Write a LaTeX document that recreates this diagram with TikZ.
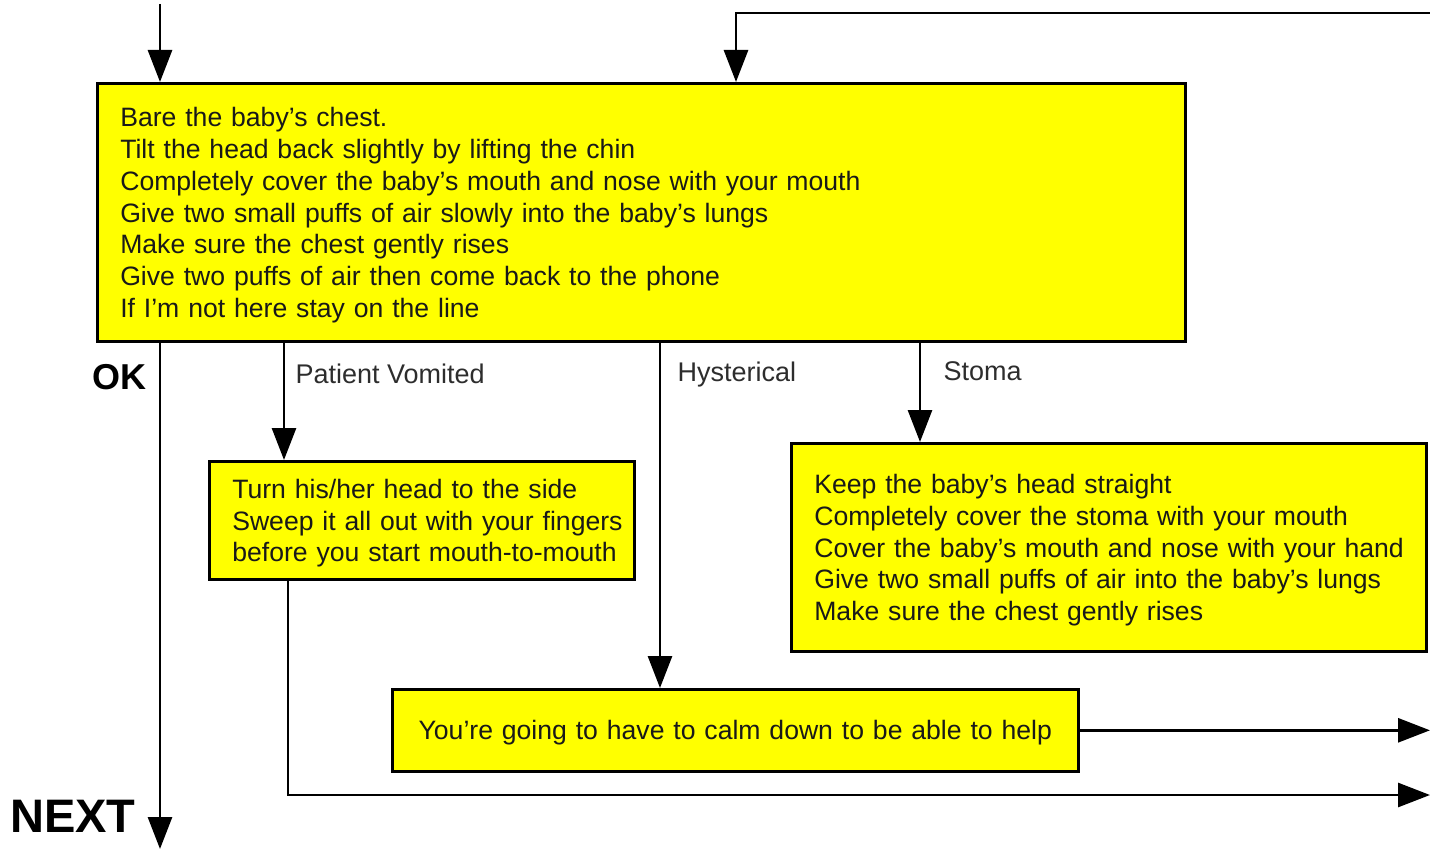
\documentclass[tikz,border=0pt]{standalone}
\usepackage{fontspec}
\setmainfont{Liberation Sans}
\usetikzlibrary{arrows.meta}
\definecolor{boxyellow}{RGB}{255,255,0}
\definecolor{labelgray}{RGB}{45,45,45}
\tikzset{
  stepbox/.style={draw=black, line width=2.6pt, fill=boxyellow, rectangle,
    anchor=north west, inner xsep=23pt, inner ysep=0pt, align=left,
    font=\fontsize{26.6}{31.8}\selectfont, text=black!90,
    execute at end node={\par\vspace*{-6pt}}},
  flow/.style={line width=2.8pt, -{Triangle[length=32pt,width=24pt]}},
  branch/.style={font=\fontsize{27}{31}\selectfont, text=labelgray, anchor=west},
  big/.style={font=\bfseries\fontsize{36}{40}\selectfont, anchor=east}
}
\begin{document}
\begin{tikzpicture}[x=1pt,y=-1pt]
\useasboundingbox (0,0) rectangle (1430,851);

% boxes (each line kept whole in an \mbox)
\node[stepbox, minimum width=1088pt, minimum height=258pt, text width=1042pt] (main) at (96,82)
  {\mbox{Bare the baby's chest.}\\
   \mbox{Tilt the head back slightly by lifting the chin}\\
   \mbox{Completely cover the baby's mouth and nose with your mouth}\\
   \mbox{Give two small puffs of air slowly into the baby's lungs}\\
   \mbox{Make sure the chest gently rises}\\
   \mbox{Give two puffs of air then come back to the phone}\\
   \mbox{If I'm not here stay on the line}};

\node[stepbox, minimum width=425pt, minimum height=118pt, text width=379pt] (vom) at (208,460)
  {\mbox{Turn his/her head to the side}\\
   \mbox{Sweep it all out with your fingers}\\
   \mbox{before you start mouth-to-mouth}};

\node[stepbox, minimum width=635pt, minimum height=208pt, text width=589pt] (stoma) at (790,442)
  {\mbox{Keep the baby's head straight}\\
   \mbox{Completely cover the stoma with your mouth}\\
   \mbox{Cover the baby's mouth and nose with your hand}\\
   \mbox{Give two small puffs of air into the baby's lungs}\\
   \mbox{Make sure the chest gently rises}};

\node[stepbox, minimum width=686pt, minimum height=82pt, text width=640pt, align=center] (calm) at (391,688)
  {\mbox{You're going to have to calm down to be able to help}};

% incoming and outgoing ends
\coordinate (inA) at (160,4);
\coordinate (inB) at (1430,13);
\coordinate (inBturn) at (736,13);
\coordinate (next) at (160,849);
\coordinate (vx) at (284,0);
\coordinate (vout) at (288,795);
\coordinate (hx) at (660,0);
\coordinate (sx) at (920,0);
\coordinate (outVom) at (1430,795);

% connectors
\draw[flow] (inA) -- (inA |- main.north);
\draw[flow] (inB) -- (inBturn) -- (inBturn |- main.north);
\draw[flow] (next |- main.south) -- (next);
\draw[flow] (vx |- main.south) -- (vx |- vom.north);
\draw[flow] (hx |- main.south) -- (hx |- calm.north);
\draw[flow] (sx |- main.south) -- (sx |- stoma.north);
\draw[flow] (vout |- vom.south) -- (vout) -- (outVom);
\draw[flow] (calm.east) -- (calm.east -| outVom);

% labels
\node[big] (ok) at (150,377) {OK};
\node[big, font=\bfseries\fontsize{47}{50}\selectfont] (nextlbl) at (139,816) {NEXT};
\node[branch] (lvom) at (292,374) {Patient Vomited};
\node[branch] (lhys) at (674,375) {Hysterical};
\node[branch] (lsto) at (940,371) {Stoma};
\end{tikzpicture}
\end{document}
